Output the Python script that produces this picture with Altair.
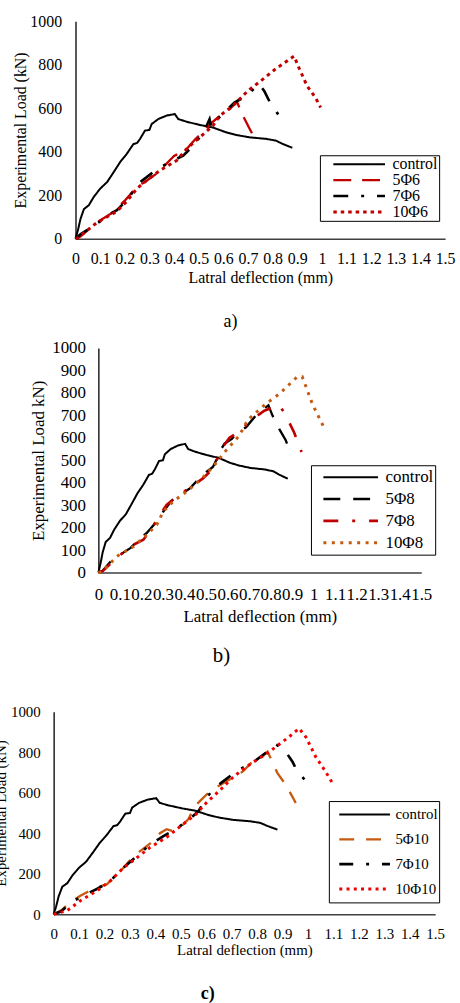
import altair as alt
import pandas as pd

FONT = "Liberation Serif, Times New Roman, DejaVu Serif, serif"
RED = "#C00000"
BROWN = "#C55A11"
BRIGHT_RED = "#F00000"
BLACK = "#000000"

x_tick_values = [0, 0.1, 0.2, 0.3, 0.4, 0.5, 0.6, 0.7, 0.8, 0.9, 1.0, 1.1, 1.2, 1.3, 1.4, 1.5]
y_ticks_a = [0, 200, 400, 600, 800, 1000]
y_ticks_b = [0, 100, 200, 300, 400, 500, 600, 700, 800, 900, 1000]
y_ticks_c = [0, 200, 400, 600, 800, 1000]

# control specimen (same in all panels)
control_x = [0, 0.01, 0.02, 0.034, 0.054, 0.074, 0.10, 0.128, 0.155, 0.181, 0.208, 0.235, 0.25, 0.262,
             0.282, 0.30, 0.309, 0.336, 0.37, 0.403, 0.417, 0.45, 0.504, 0.558, 0.611, 0.652, 0.706,
             0.773, 0.813, 0.84, 0.88]
control_load = [0, 40, 90, 136, 154, 192, 230, 260, 306, 352, 390, 435, 440, 459,
                497, 500, 527, 550, 566, 573, 550, 538, 523, 511, 489, 477, 466,
                459, 451, 436, 418]

# ---- panel a) ----
a5_x = [0, 0.02, 0.08, 0.15, 0.2, 0.25, 0.28, 0.33, 0.4, 0.45, 0.484, 0.517, 0.55, 0.578, 0.625,
        0.655, 0.679, 0.706, 0.732]
a5_load = [0, 10, 70, 120, 175, 240, 260, 300, 380, 410, 455, 490, 530, 557, 595,
           630, 566, 507, 451]
a7_x = [0, 0.02, 0.1, 0.141, 0.168, 0.21, 0.262, 0.289, 0.33, 0.383, 0.437, 0.48, 0.52, 0.538,
        0.544, 0.551, 0.585, 0.645, 0.693, 0.745, 0.766, 0.793, 0.827]
a7_load = [0, 20, 80, 115, 131, 180, 260, 283, 320, 352, 382, 430, 490, 534,
           549, 511, 560, 626, 656, 712, 679, 618, 565]
a10_x = [0, 0.01, 0.087, 0.168, 0.208, 0.249, 0.289, 0.343, 0.41, 0.45, 0.504, 0.558, 0.585,
         0.638, 0.70, 0.746, 0.813, 0.887, 0.907, 0.94, 0.974, 0.995]
a10_load = [0, 5, 74, 126, 172, 230, 268, 314, 359, 412, 466, 519, 565,
            610, 680, 720, 781, 839, 785, 702, 648, 603]

# ---- panel b) ----
b5_x = [0, 0.02, 0.071, 0.102, 0.15, 0.194, 0.225, 0.26, 0.286, 0.301, 0.34, 0.378, 0.425, 0.47,
        0.502, 0.532, 0.55, 0.563, 0.586, 0.62, 0.64, 0.686, 0.725, 0.778, 0.79, 0.809, 0.84,
        0.871, 0.894]
b5_load = [0, 8, 65, 80, 110, 153, 176, 215, 249, 271, 320, 345, 375, 420,
           448, 470, 505, 537, 574, 595, 618, 647, 692, 736, 745, 699, 640,
           588, 528]
b7_x = [0, 0.02, 0.08, 0.13, 0.163, 0.209, 0.25, 0.286, 0.317, 0.36, 0.44, 0.486, 0.53, 0.578,
        0.609, 0.65, 0.717, 0.771, 0.81, 0.84, 0.871, 0.909, 0.944]
b7_load = [0, 6, 62, 100, 124, 146, 200, 257, 301, 335, 389, 419, 460, 559,
           600, 625, 684, 721, 735, 748, 699, 625, 537]
b10_x = [0, 0.017, 0.086, 0.163, 0.225, 0.271, 0.301, 0.347, 0.409, 0.471, 0.532, 0.594, 0.655,
         0.694, 0.778, 0.84, 0.924, 0.947, 0.963, 0.994, 1.032, 1.055]
b10_load = [0, 3, 72, 116, 168, 212, 271, 316, 360, 410, 470, 545, 610,
            680, 751, 795, 872, 872, 832, 751, 677, 633]

# ---- panel c) ----
c5_x = [0, 0.03, 0.066, 0.105, 0.14, 0.17, 0.21, 0.249, 0.275, 0.314, 0.34, 0.38, 0.418, 0.444,
        0.47, 0.496, 0.53, 0.555, 0.574, 0.607, 0.633, 0.678, 0.743, 0.782, 0.821, 0.841, 0.86,
        0.88, 0.913, 0.952]
c5_load = [0, 20, 59, 92, 115, 132, 149, 198, 230, 288, 312, 350, 400, 420,
           410, 426, 470, 533, 557, 598, 622, 655, 704, 753, 778, 802, 753,
           696, 639, 549]
c7_x = [0, 0.03, 0.07, 0.12, 0.17, 0.22, 0.26, 0.288, 0.33, 0.38, 0.43, 0.48, 0.53, 0.57, 0.6,
        0.626, 0.66, 0.717, 0.796, 0.848, 0.874, 0.906, 0.939, 0.958, 0.994]
c7_load = [0, 15, 60, 95, 125, 160, 215, 245, 290, 345, 385, 420, 465, 510, 573,
           614, 650, 704, 761, 810, 838, 814, 753, 704, 655]
c10_x = [0, 0.053, 0.105, 0.17, 0.223, 0.275, 0.327, 0.379, 0.444, 0.509, 0.561, 0.6, 0.652,
         0.704, 0.757, 0.848, 0.926, 0.965, 0.991, 1.03, 1.069, 1.095]
c10_load = [0, 18, 67, 116, 165, 230, 279, 330, 380, 445, 495, 550, 610,
            675, 728, 802, 876, 917, 876, 778, 704, 650]

PLOT_W = 394


def build_df(names, xs, ys):
    rows = []
    for name, xv, yv in zip(names, xs, ys):
        for i, (a, b) in enumerate(zip(xv, yv)):
            rows.append({"series": name, "x": a, "load": b, "idx": i})
    return pd.DataFrame(rows)


def panel(names, xs, ys, colors, dashes, widths, *, y_ticks, y_title, x_range, height, y_top,
          fs, y_label_pad, y_title_pad, x_label_pad, x_title_pad, legend_xy, row_h,
          symbol_size, symbol_offset, label_offset, panel_label, panel_fs, panel_offset,
          panel_dx, panel_weight):
    df = build_df(names, xs, ys)
    leg = alt.Legend(
        title=None, orient="none", legendX=legend_xy[0], legendY=legend_xy[1],
        direction="vertical", symbolType="stroke", symbolSize=symbol_size,
        symbolOffset=symbol_offset, labelOffset=label_offset,
        labelFont=FONT, labelFontSize=fs, labelColor="black", labelLimit=300,
        strokeColor="black", fillColor="white", padding=1, rowPadding=0,
        clipHeight=row_h, cornerRadius=0,
    )
    chart = alt.Chart(df).mark_line().encode(
        x=alt.X("x:Q",
                scale=alt.Scale(domain=[0, 1.5], range=list(x_range), nice=False, zero=False),
                axis=alt.Axis(values=x_tick_values, labelExpr="'' + round(datum.value * 10) / 10",
                              title="Latral deflection (mm)", grid=False, ticks=False, tickSize=0,
                              labelFont=FONT, labelFontSize=fs, labelColor="black",
                              labelPadding=x_label_pad, labelOverlap=False, labelFlush=False,
                              labelBound=False,
                              titleFont=FONT, titleFontSize=fs, titleFontWeight="normal",
                              titleColor="black", titlePadding=x_title_pad,
                              domainColor="#404040", domainWidth=1.5)),
        y=alt.Y("load:Q",
                scale=alt.Scale(domain=[0, 1000], range=[height, y_top], nice=False, zero=True),
                axis=alt.Axis(values=y_ticks, title=y_title, grid=False, ticks=False, tickSize=0,
                              offset=-x_range[0], format="d",
                              labelFont=FONT, labelFontSize=fs, labelColor="black",
                              labelPadding=y_label_pad, labelOverlap=False, labelFlush=False,
                              labelBound=False,
                              titleFont=FONT, titleFontSize=fs, titleFontWeight="normal",
                              titleColor="black", titlePadding=y_title_pad,
                              domainColor="#202020", domainWidth=1.5)),
        color=alt.Color("series:N", scale=alt.Scale(domain=names, range=colors), legend=leg),
        strokeDash=alt.StrokeDash("series:N", scale=alt.Scale(domain=names, range=dashes), legend=leg),
        strokeWidth=alt.StrokeWidth("series:N", scale=alt.Scale(domain=names, range=widths), legend=leg),
        order=alt.Order("idx:Q"),
    ).properties(
        width=PLOT_W, height=height,
        title=alt.TitleParams(panel_label, orient="bottom", anchor="middle", frame="group",
                              baseline="top", font=FONT, fontSize=panel_fs,
                              fontWeight=panel_weight, color="black", offset=panel_offset,
                              dx=panel_dx),
    )
    return chart


names_a = ["control", "5\u03a66", "7\u03a66", "10\u03a66"]
pa = panel(names_a, [control_x, a5_x, a7_x, a10_x], [control_load, a5_load, a7_load, a10_load],
           [BLACK, RED, BLACK, RED],
           [[1, 0], [18, 11], [15, 13, 3, 13], [3.5, 4]],
           [2, 3, 3, 3.5],
           y_ticks=y_ticks_a, y_title="Experimental Load (kN)", x_range=(22, 394),
           height=219, y_top=0, fs=16, y_label_pad=14, y_title_pad=1, x_label_pad=12,
           x_title_pad=3, legend_xy=(268, 135), row_h=16, symbol_size=2704,
           symbol_offset=11, label_offset=6, panel_label="a)", panel_fs=18, panel_offset=28,
           panel_dx=-19, panel_weight="normal")

names_b = ["control", "5\u03a68", "7\u03a68", "10\u03a68"]
pb = panel(names_b, [control_x, b5_x, b7_x, b10_x], [control_load, b5_load, b7_load, b10_load],
           [BLACK, BLACK, RED, BROWN],
           [[1, 0], [17, 13], [15, 14, 3, 14], [3, 5.5]],
           [2, 3, 3, 3.5],
           y_ticks=y_ticks_b, y_title="Experimental Load kN)", x_range=(45, 370),
           height=336, y_top=110, fs=17, y_label_pad=13, y_title_pad=4, x_label_pad=14,
           x_title_pad=6, legend_xy=(259, 228), row_h=22, symbol_size=3025,
           symbol_offset=10, label_offset=6, panel_label="b)", panel_fs=21, panel_offset=21,
           panel_dx=-28, panel_weight="normal")

names_c = ["control", "5\u03a610", "7\u03a610", "10\u03a610"]
pc = panel(names_c, [control_x, c5_x, c7_x, c10_x], [control_load, c5_load, c7_load, c10_load],
           [BLACK, BROWN, BLACK, BRIGHT_RED],
           [[1, 0], [15, 12], [14, 13, 3, 13], [3, 4.3]],
           [2, 3, 3, 3.5],
           y_ticks=y_ticks_c, y_title="Experimental Load (kN)", x_range=(0, 384),
           height=344, y_top=140, fs=15, y_label_pad=13.5, y_title_pad=2, x_label_pad=12,
           x_title_pad=1, legend_xy=(277, 230), row_h=25, symbol_size=2600,
           symbol_offset=8, label_offset=4, panel_label="c)", panel_fs=18, panel_offset=28,
           panel_dx=-42, panel_weight="bold")

chart = alt.vconcat(pa, pb, pc, spacing=0, bounds="flush").resolve_scale(
    color="independent", strokeDash="independent", strokeWidth="independent"
).resolve_legend(
    color="independent", strokeDash="independent", strokeWidth="independent"
).properties(
    padding={"left": -7, "top": 10, "right": 5, "bottom": 0},
    background="white",
).configure_view(stroke=None)

chart.save("out.html", embed_options={"renderer": "svg", "actions": False})
